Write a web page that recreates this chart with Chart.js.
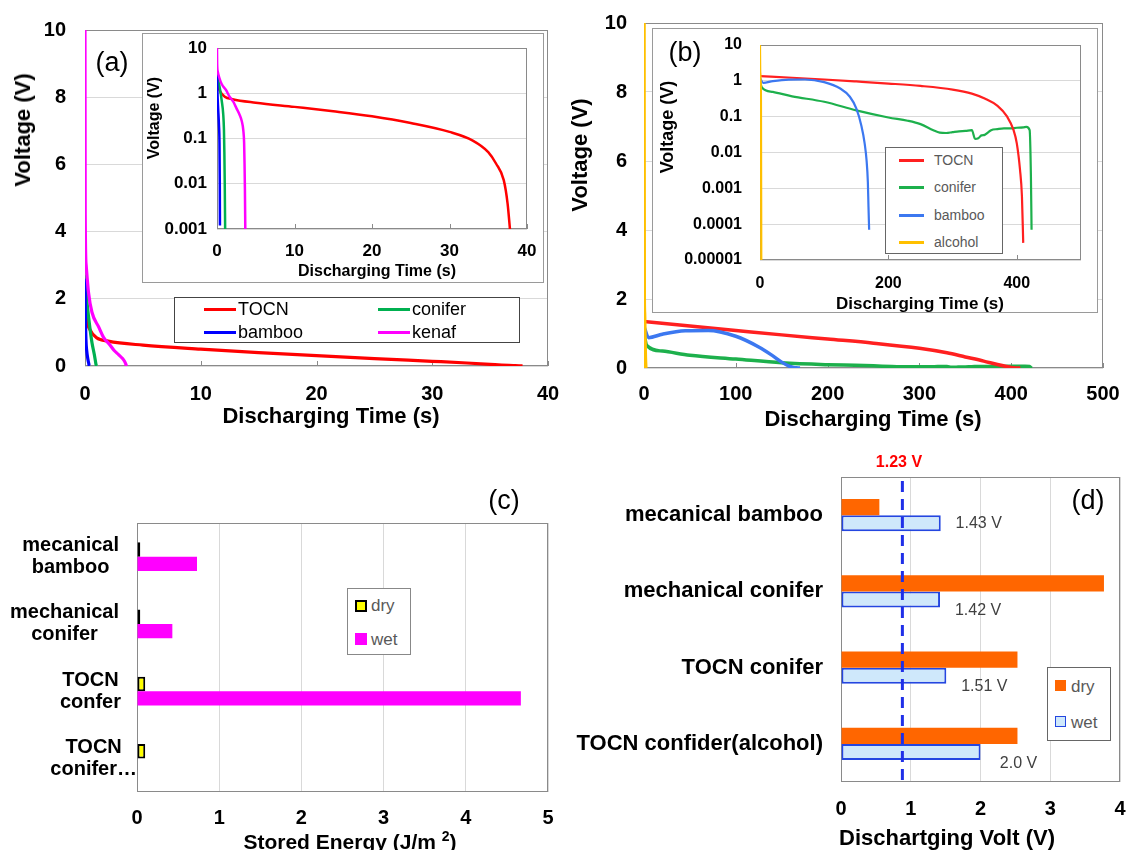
<!DOCTYPE html>
<html>
<head>
<meta charset="utf-8">
<script src="https://cdn.jsdelivr.net/npm/chart.js@4.4.1/dist/chart.umd.min.js"></script>
<style>
body { margin: 0; background: #fff; font-family: "Liberation Sans", Arial, sans-serif; }
#page { position: relative; width: 1128px; height: 850px; overflow: hidden; background: #fff; }
canvas { position: absolute; }
.txt { position: absolute; transform: translate(-50%, -50%); white-space: nowrap; line-height: 1; color: #000; }
.box { position: absolute; background: #fff; box-sizing: border-box; }
</style>
</head>
<body>
<div id="page">
  <canvas id="cA" width="560" height="430" style="left:0;top:0"></canvas>
  <canvas id="cB" width="568" height="430" style="left:560px;top:0"></canvas>
  <canvas id="cC" width="560" height="410" style="left:0;top:440px"></canvas>
  <canvas id="cD" width="568" height="410" style="left:560px;top:440px"></canvas>
  <div class="box" style="left:142px;top:33px;width:402px;height:250px;border:1.5px solid #9a9a9a"></div>
  <canvas id="cAi" width="402" height="250" style="left:142px;top:33px"></canvas>
  <div class="box" style="left:652px;top:28px;width:446px;height:285px;border:1.5px solid #9a9a9a"></div>
  <canvas id="cBi" width="446" height="285" style="left:652px;top:28px"></canvas>
</div>
<script>
const FONT = '"Liberation Sans", Arial, sans-serif';

// (a) discharge, time in s, voltage in V
const tocnA_t = [0.05, 0.15, 0.4, 1, 2, 5, 10, 15, 20, 25, 30, 33, 35, 36, 37, 37.5, 37.8];
const tocnA_v = [2.6, 1.5, 1.1, 0.84, 0.74, 0.62, 0.5, 0.4, 0.31, 0.22, 0.14, 0.09, 0.05, 0.028, 0.012, 0.0036, 0.001];
const coniferA_t = [0, 0.1, 0.2, 0.4, 0.6, 0.8, 0.9, 0.95, 1.0, 1.05];
const coniferA_v = [2.7, 2.2, 1.8, 1.2, 0.7, 0.35, 0.15, 0.05, 0.01, 0.001];
const bambooA_t = [0, 0.03, 0.08, 0.15, 0.25, 0.32, 0.36, 0.38];
const bambooA_v = [2.6, 1.6, 0.8, 0.45, 0.2, 0.08, 0.01, 0.0012];
const kenafA_t = [0, 0.02, 0.1, 0.3, 0.6, 1.2, 1.6, 2.1, 2.5, 2.9, 3.2, 3.4, 3.5, 3.55, 3.6, 3.65];
const kenafA_v = [10, 4.5, 3.0, 2.2, 1.6, 1.15, 0.85, 0.65, 0.47, 0.34, 0.24, 0.15, 0.08, 0.03, 0.008, 0.001];

// (b) discharge
const tocnB_t = [0, 50, 100, 150, 200, 250, 300, 330, 350, 370, 385, 395, 400, 405, 408, 410];
const tocnB_v = [1.35, 1.22, 1.09, 0.96, 0.84, 0.72, 0.57, 0.44, 0.32, 0.2, 0.1, 0.042, 0.018, 0.0033, 0.0006, 0.00003];
const coniferB_t = [0, 3, 20, 50, 100, 150, 200, 230, 250, 270, 280, 290, 300, 310, 320, 330, 335, 340, 345, 350, 355, 360, 370, 380, 390, 400, 410, 415, 420, 422, 423];
const coniferB_v = [1.0, 0.65, 0.49, 0.37, 0.26, 0.15, 0.095, 0.077, 0.062, 0.042, 0.036, 0.035, 0.037, 0.039, 0.04, 0.042, 0.024, 0.025, 0.03, 0.031, 0.036, 0.042, 0.045, 0.047, 0.047, 0.049, 0.05, 0.052, 0.042, 0.0021, 0.00007];
const bambooB_t = [0, 5, 20, 45, 70, 100, 125, 140, 150, 158, 163, 166, 168, 169, 170];
const bambooB_v = [1.2, 0.88, 0.98, 1.08, 1.09, 0.92, 0.61, 0.36, 0.17, 0.055, 0.018, 0.006, 0.0015, 0.0003, 0.00007];
const alcoholB_t = [0, 0.3, 0.6, 1, 1.5, 2];
const alcoholB_v = [10, 2.0, 1.6, 1.0, 0.3, 0.00001];

const logTicksA = [10, 1, 0.1, 0.01, 0.001];
const logTicksB = [10, 1, 0.1, 0.01, 0.001, 0.0001, 0.00001];

// (c) stored energy J/m2
const catC = [["mecanical", "bamboo"], ["mechanical", "conifer"], ["TOCN", "confer"], ["TOCN", "conifer\u2026"]];
const dryC = [0.04, 0.04, 0.1, 0.1];
const wetC = [0.73, 0.43, 4.67, 0];

// (d) discharging volt
const catD = ["mecanical bamboo", "mechanical conifer", "TOCN conifer", "TOCN confider(alcohol)"];
const dryD = [0.55, 3.77, 2.53, 2.53];
const wetD = [1.43, 1.42, 1.51, 2.0];
const wetLabelsD = ["1.43 V", "1.42 V", "1.51 V", "2.0 V"];
const refLineD = 0.88; // where the dashed "1.23 V" line is drawn

function pts(t, v) {
    return t.map((x, i) => ({ x: x, y: v[i] }));
}

function fixY(w) {
    return function (s) { s.width = w; s.paddingTop = 0; s.paddingBottom = 0; };
}

function fixX(h) {
    return function (s) { s.height = h; s.paddingLeft = 0; s.paddingRight = 0; };
}

function bold(size) {
    return { family: FONT, size: size, weight: 'bold' };
}

// plot frame + small inner tick marks on the x axis
const framePlugin = {
    id: 'frame',
    beforeDatasetsDraw(chart, args, opts) {
        const a = chart.chartArea, ctx = chart.ctx;
        ctx.save();
        ctx.strokeStyle = opts.color || '#888';
        ctx.lineWidth = 1;
        ctx.strokeRect(Math.round(a.left) + 0.5, Math.round(a.top) + 0.5, Math.round(a.right - a.left) - 1, Math.round(a.bottom - a.top) - 1);
        if (opts.tickLen) {
            const xs = chart.scales.x;
            xs.ticks.forEach(t => {
                const px = Math.round(xs.getPixelForValue(t.value)) + 0.5;
                ctx.beginPath();
                ctx.moveTo(px, a.bottom);
                ctx.lineTo(px, a.bottom - opts.tickLen);
                ctx.stroke();
            });
        }
        ctx.restore();
    }
};

function curveChart(id, sets, c) {
    let yScale = {
        border: { display: false },
        grid: { color: '#d9d9d9', drawTicks: false },
        ticks: { padding: c.yPad, font: c.font, color: '#000', autoSkip: false },
        afterFit: fixY(c.yW)
    };
    if (c.logTicks) {
        yScale.type = 'logarithmic';
        yScale.min = c.logTicks[c.logTicks.length - 1];
        yScale.max = c.logTicks[0];
        yScale.afterBuildTicks = function (s) { s.ticks = c.logTicks.map(v => ({ value: v })); };
        yScale.ticks.callback = v => String(v);
    } else {
        yScale.type = 'linear';
        yScale.min = 0;
        yScale.max = 10;
        yScale.ticks.stepSize = 2;
    }
    return new Chart(document.getElementById(id), {
        type: 'line',
        data: {
            datasets: sets.map(s => ({
                data: pts(s[0], s[1]),
                borderColor: s[2],
                borderWidth: s[3] || c.lw,
                pointRadius: 0,
                cubicInterpolationMode: 'monotone',
                fill: false
            }))
        },
        plugins: [framePlugin],
        options: {
            responsive: false,
            animation: false,
            events: [],
            layout: { padding: c.pad },
            plugins: {
                legend: { display: false },
                tooltip: { enabled: false },
                frame: { color: '#8a8a8a', tickLen: c.tickLen }
            },
            scales: {
                x: {
                    type: 'linear',
                    min: 0,
                    max: c.xMax,
                    border: { display: false },
                    grid: { display: false, drawTicks: false },
                    ticks: { stepSize: c.xStep, includeBounds: c.xBounds !== false, padding: c.xPad, font: c.font, color: '#000', maxRotation: 0, autoSkip: false },
                    afterFit: fixX(c.xH)
                },
                y: yScale
            }
        }
    });
}

const colA = { tocn: '#ff0000', conifer: '#00b050', bamboo: '#0000ff', kenaf: '#ff00ff' };
const colB = { tocn: '#ff2020', conifer: '#1db04c', bamboo: '#3c78f0', alcohol: '#ffc000' };

const setsA = [
    [kenafA_t, kenafA_v, colA.kenaf],
    [bambooA_t, bambooA_v, colA.bamboo],
    [coniferA_t, coniferA_v, colA.conifer],
    [tocnA_t, tocnA_v, colA.tocn]
];
const setsB = [
    [alcoholB_t, alcoholB_v, colB.alcohol],
    [bambooB_t, bambooB_v, colB.bamboo],
    [tocnB_t, tocnB_v, colB.tocn],
    [coniferB_t, coniferB_v, colB.conifer]
];

curveChart('cA', setsA, {
    pad: { left: 0, top: 30, right: 12, bottom: 0 }, yW: 85, xH: 64,
    xMax: 40, xStep: 10, yPad: 19, xPad: 16, font: bold(20), lw: 3.2, tickLen: 5
});
curveChart('cAi', setsA, {
    pad: { left: 0, top: 15, right: 17, bottom: 0 }, yW: 75, xH: 54,
    xMax: 40, xStep: 10, yPad: 10, xPad: 12, font: bold(17), lw: 2.5, tickLen: 5, logTicks: logTicksA
});
curveChart('cB', setsB, {
    pad: { left: 0, top: 23, right: 25, bottom: 0 }, yW: 84, xH: 62,
    xMax: 500, xStep: 100, yPad: 17, xPad: 14, font: bold(20), lw: 3.5, tickLen: 5
});
curveChart('cBi', setsB, {
    pad: { left: 0, top: 17, right: 17, bottom: 0 }, yW: 108, xH: 53,
    xMax: 500, xStep: 200, xBounds: false, yPad: 18, xPad: 14, font: bold(16), lw: 2.2, tickLen: 5, logTicks: logTicksB
});

// two-line category labels for (c), lines centred inside a right-aligned block
const catLabelPlugin = {
    id: 'catLabels',
    afterDraw(chart, args, opts) {
        const s = chart.scales.y, ctx = chart.ctx;
        ctx.save();
        ctx.font = 'bold ' + opts.size + 'px ' + FONT;
        ctx.fillStyle = '#000';
        ctx.textAlign = 'center';
        ctx.textBaseline = 'middle';
        opts.labels.forEach((lines, i) => {
            const w = Math.max(...lines.map(l => ctx.measureText(l).width));
            const cx = opts.right[i] - w / 2;
            const cy = s.getPixelForValue(i);
            lines.forEach((l, k) => {
                ctx.fillText(l, cx, cy + (k - (lines.length - 1) / 2) * opts.lineHeight);
            });
        });
        ctx.restore();
    }
};

new Chart(document.getElementById('cC'), {
    type: 'bar',
    data: {
        labels: catC.map(l => l.join(' ')),
        datasets: [
            { label: 'dry', data: dryC, backgroundColor: '#ffff00', borderColor: '#000', borderWidth: 2, borderSkipped: false },
            { label: 'wet', data: wetC, backgroundColor: '#ff00ff', borderWidth: 0 }
        ]
    },
    plugins: [framePlugin, catLabelPlugin],
    options: {
        indexAxis: 'y',
        responsive: false,
        animation: false,
        events: [],
        layout: { padding: { left: 0, top: 83, right: 12, bottom: 0 } },
        datasets: { bar: { categoryPercentage: 0.43, barPercentage: 1 } },
        plugins: {
            legend: { display: false },
            tooltip: { enabled: false },
            frame: { color: '#8a8a8a' },
            catLabels: { labels: catC, size: 20, lineHeight: 22, right: [119, 119, 121, 137] }
        },
        scales: {
            x: {
                min: 0, max: 5,
                border: { display: false },
                grid: { color: '#d9d9d9', drawTicks: false },
                ticks: { stepSize: 1, padding: 14, font: bold(20), color: '#000' },
                afterFit: fixX(58)
            },
            y: {
                border: { display: false },
                grid: { display: false, drawTicks: false },
                ticks: { display: false },
                afterFit: fixY(137)
            }
        }
    }
});

// dashed reference line and value labels for (d)
const refLinePlugin = {
    id: 'refLine',
    afterDatasetsDraw(chart, args, opts) {
        const a = chart.chartArea, ctx = chart.ctx;
        const x = chart.scales.x.getPixelForValue(opts.value);
        ctx.save();
        ctx.strokeStyle = '#1f2fe8';
        ctx.lineWidth = 3;
        ctx.setLineDash([11, 7]);
        ctx.beginPath();
        ctx.moveTo(x, a.top + 4);
        ctx.lineTo(x, a.bottom);
        ctx.stroke();
        ctx.restore();
    }
};

const wetLabelPlugin = {
    id: 'wetLabels',
    afterDatasetsDraw(chart, args, opts) {
        const ctx = chart.ctx;
        ctx.save();
        ctx.font = '16px ' + FONT;
        ctx.fillStyle = '#404040';
        ctx.textAlign = 'center';
        ctx.textBaseline = 'middle';
        chart.getDatasetMeta(1).data.forEach((bar, i) => {
            ctx.fillText(opts.labels[i], bar.x + opts.dx, bar.y + opts.dy[i]);
        });
        ctx.restore();
    }
};

new Chart(document.getElementById('cD'), {
    type: 'bar',
    data: {
        labels: catD,
        datasets: [
            { label: 'dry', data: dryD, backgroundColor: '#ff6600', borderWidth: 0 },
            { label: 'wet', data: wetD, backgroundColor: '#cfe8fb', borderColor: '#2446e0', borderWidth: 2, borderSkipped: false }
        ]
    },
    plugins: [framePlugin, refLinePlugin, wetLabelPlugin],
    options: {
        indexAxis: 'y',
        responsive: false,
        animation: false,
        events: [],
        layout: { padding: { left: 0, top: 37, right: 8, bottom: 0 } },
        datasets: { bar: { categoryPercentage: 0.42, barPercentage: 1 } },
        plugins: {
            legend: { display: false },
            tooltip: { enabled: false },
            frame: { color: '#8a8a8a' },
            refLine: { value: refLineD },
            wetLabels: { labels: wetLabelsD, dx: 38, dy: [0, 11, 11, 12] }
        },
        scales: {
            x: {
                min: 0, max: 4,
                border: { display: false },
                grid: { color: '#d9d9d9', drawTicks: false },
                ticks: { stepSize: 1, padding: 15, font: bold(20), color: '#000' },
                afterFit: fixX(68)
            },
            y: {
                border: { display: false },
                grid: { display: false, drawTicks: false },
                ticks: { padding: 18, font: bold(22), color: '#000' },
                afterFit: fixY(281)
            }
        }
    }
});

// text, legends
const page = document.getElementById('page');

function addText(html, x, y, size, isBold, extra) {
    let d = document.createElement('div');
    d.className = 'txt';
    d.innerHTML = html;
    d.style.left = x + 'px';
    d.style.top = y + 'px';
    d.style.fontSize = size + 'px';
    if (isBold) d.style.fontWeight = 'bold';
    if (extra) Object.assign(d.style, extra);
    page.appendChild(d);
}

function addBox(x, y, w, h, style) {
    let d = document.createElement('div');
    d.className = 'box';
    d.style.left = x + 'px';
    d.style.top = y + 'px';
    d.style.width = w + 'px';
    d.style.height = h + 'px';
    Object.assign(d.style, style);
    page.appendChild(d);
}

const ROT = { transform: 'translate(-50%, -50%) rotate(-90deg)' };
const LEFT = { transform: 'translate(0, -50%)' };

addText('Voltage (V)', 23, 130, 22, true, ROT);
addText('Discharging Time (s)', 331, 416, 22, true);
addText('Voltage (V)', 154, 118, 16, true, ROT);
addText('Discharging Time (s)', 377, 271, 16, true);
addText('(a)', 112, 62, 27, false);

addText('Voltage (V)', 580, 155, 22, true, ROT);
addText('Discharging Time (s)', 873, 419, 22, true);
addText('Voltage (V)', 667, 127, 18, true, ROT);
addText('Discharging Time (s)', 920, 303, 17, true);
addText('(b)', 685, 52, 27, false);

addText('Stored Energy (J/m <sup style="font-size:14px">2</sup>)', 350, 840, 21, true);
addText('(c)', 504, 500, 27, false);

addText('Dischartging Volt (V)', 947, 838, 22, true);
addText('(d)', 1088, 500, 27, false);
addText('1.23 V', 899, 462, 16, true, { color: '#ff0000' });

// legend (a)
addBox(174, 297, 346, 46, { border: '1px solid #444' });
[['TOCN', colA.tocn, 204, 309], ['bamboo', colA.bamboo, 204, 332], ['conifer', colA.conifer, 378, 309], ['kenaf', colA.kenaf, 378, 332]].forEach(it => {
    addBox(it[2], it[3] - 1.5, 32, 3, { background: it[1] });
    addText(it[0], it[2] + 34, it[3], 18, false, LEFT);
});

// legend (b)
addBox(885, 147, 118, 107, { border: '1px solid #666' });
[['TOCN', colB.tocn, 160], ['conifer', colB.conifer, 187], ['bamboo', colB.bamboo, 215], ['alcohol', colB.alcohol, 242]].forEach(it => {
    addBox(899, it[2] - 1, 25, 2.5, { background: it[1] });
    addText(it[0], 934, it[2], 14, false, Object.assign({ color: '#595959' }, LEFT));
});

// legend (c)
addBox(347, 588, 64, 67, { border: '1px solid #888' });
addBox(355, 600, 12, 12, { background: '#ffff00', border: '2.5px solid #000' });
addText('dry', 371, 605, 17, false, Object.assign({ color: '#595959' }, LEFT));
addBox(355, 633, 12, 12, { background: '#ff00ff' });
addText('wet', 371, 639, 17, false, Object.assign({ color: '#595959' }, LEFT));

// legend (d)
addBox(1047, 667, 64, 74, { border: '1px solid #666' });
addBox(1055, 680, 11, 11, { background: '#ff6600' });
addText('dry', 1071, 686, 17, false, Object.assign({ color: '#595959' }, LEFT));
addBox(1055, 716, 11, 11, { background: '#cfe8fb', border: '1.5px solid #2446e0' });
addText('wet', 1071, 722, 17, false, Object.assign({ color: '#595959' }, LEFT));
</script>
</body>
</html>
